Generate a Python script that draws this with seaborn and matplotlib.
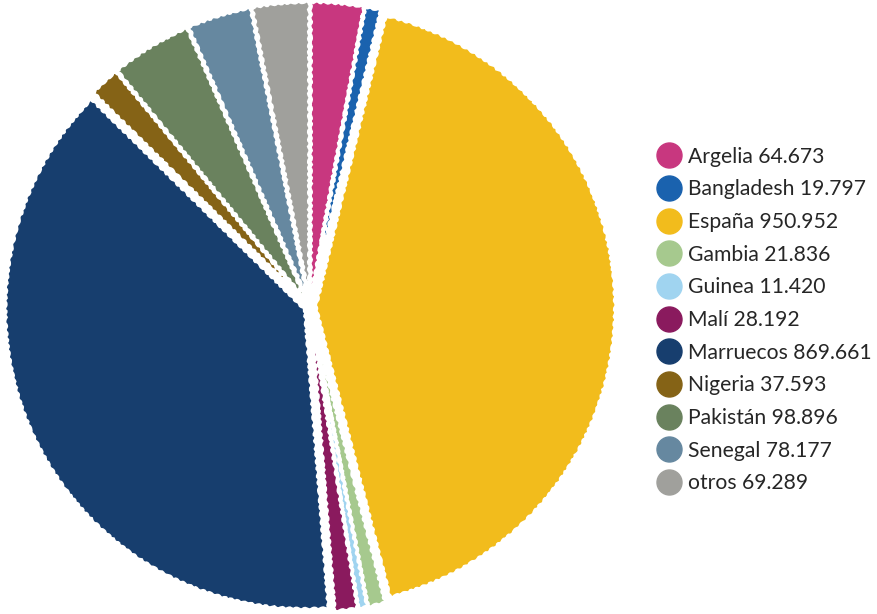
import matplotlib
matplotlib.use("Agg")
import matplotlib.pyplot as plt
from matplotlib.lines import Line2D
import seaborn as sns

categories = ["Argelia", "Bangladesh", "España", "Gambia", "Guinea", "Malí",
              "Marruecos", "Nigeria", "Pakistán", "Senegal", "otros"]
values = [64.673, 19.797, 950.952, 21.836, 11.420, 28.192,
          869.661, 37.593, 98.896, 78.177, 69.289]
value_labels = ["64.673", "19.797", "950.952", "21.836", "11.420", "28.192",
                "869.661", "37.593", "98.896", "78.177", "69.289"]
colors = ["#C8377F", "#1A62AE", "#F2BC1C", "#A6C98E", "#A0D4F0", "#8A1A5E",
          "#173E6E", "#856316", "#6A825E", "#6688A0", "#A0A09C"]

sns.set_theme(style="white")
palette = sns.color_palette(colors)
plt.rcParams['font.family'] = ['Lato', 'DejaVu Sans']

fig = plt.figure(figsize=(8.78, 6.14), dpi=100)
W, H = 878, 614
cx, cy, R = 310, 307, 306
ax = fig.add_axes([(cx - R) / W, (H - cy - R) / H, 2 * R / W, 2 * R / H])
wedges, _ = ax.pie(values, colors=palette, startangle=90, counterclock=False,
                   explode=[0.018] * len(values), radius=1.0,
                   wedgeprops=dict(edgecolor="white", linewidth=2.5))
for w in wedges:
    w.set_sketch_params(scale=0.8, length=8, randomness=2)
ax.set_xlim(-1.02, 1.02)
ax.set_ylim(-1.02, 1.02)
ax.set_aspect("equal")
ax.axis("off")

handles = [Line2D([0], [0], marker="o", linestyle="none", markersize=18,
                  markerfacecolor=c, markeredgecolor=c) for c in palette]
labels = [f"{c} {v}" for c, v in zip(categories, value_labels)]
fig.legend(handles, labels, loc="center left", bbox_to_anchor=(648 / W, 1 - 320 / H),
           frameon=False, fontsize=15.2, handlelength=1.0, handletextpad=0.4,
           labelspacing=0.6, borderpad=0)

fig.savefig("out.png", dpi=100, facecolor="white")
